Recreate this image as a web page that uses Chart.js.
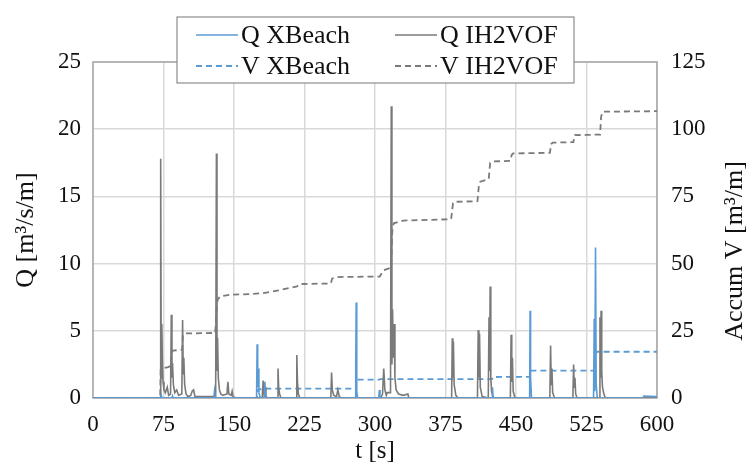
<!DOCTYPE html>
<html>
<head>
<meta charset="utf-8">
<script src="https://cdn.jsdelivr.net/npm/chart.js@4/dist/chart.umd.min.js"></script>
<style>
  body { margin: 0; background: #fff; }
  #wrap { width: 756px; height: 464px; }
</style>
</head>
<body>
<div id="wrap"><canvas id="flow"></canvas></div>
<script>
// series as [t (s), value] pairs
const qXBeach = [
  [0, 0], [72, 0], [72.6, 0.2], [73.5, 0], [84, 0], [84.6, 0.15], [85.5, 0], [128.5, 0], [129.2, 0.5], [130, 0],
  [174, 0], [174.6, 4.0], [175.2, 0.8], [175.8, 2.2], [176.5, 0.4], [178, 0], [182, 0], [182.6, 1.2], [183.3, 0.2], [185, 0],
  [279, 0], [279.5, 2.3], [280, 7.1], [280.6, 0.5], [281.5, 0], [304, 0], [304.6, 0.6], [305.3, 0],
  [424.5, 0], [425, 0.8], [425.6, 0], [464.5, 0], [465, 6.5], [465.5, 1.5], [466.5, 0],
  [532.5, 0], [533.2, 5.9], [533.8, 0.5], [534.6, 11.2], [535.3, 1.0], [536.5, 0], [585, 0], [586, 0.15], [600, 0.1]
];

const qIH2VOF = [
  [0, 0], [71.5, 0], [72, 17.8], [72.6, 1.5], [73.2, 5.5], [73.8, 2.8], [74.5, 1.2], [75.5, 0.6], [77, 0.4], [79, 0.8], [80.5, 0.2],
  [82.5, 0.3], [83.3, 6.2], [84, 1.5], [84.6, 2.6], [85.5, 1.0], [87, 0.4], [89, 0.6], [91, 0.2],
  [94.5, 0.3], [95.3, 5.8], [96, 1.8], [96.6, 3.0], [97.5, 1.0], [99, 0.3], [101, 0.1], [104, 0.2], [105.5, 0.5], [107, 0.6], [108.5, 0.1],
  [130.5, 0.1], [131.3, 18.2], [131.9, 2.0], [132.5, 4.5], [133.3, 1.5], [134.5, 0.6], [136, 0.3], [138, 0.2],
  [142.5, 0.3], [143.5, 1.2], [144.5, 0.3], [147, 0.2], [148, 0.5], [149, 0.1], [152, 0],
  [180, 0], [181, 1.3], [182, 0.3], [183, 0.8], [184, 0.1], [186, 0],
  [196, 0], [196.8, 2.2], [197.5, 0.8], [198.5, 0.3], [200, 0],
  [216, 0], [216.8, 3.2], [217.5, 1.2], [218.5, 0.3], [220, 0],
  [253, 0], [253.8, 1.9], [254.6, 0.6], [256, 0.2], [259, 0.1], [260.5, 0.6], [262, 0.1], [264, 0],
  [306, 0], [308, 0.3], [309.3, 2.2], [310.5, 0.6], [312, 0.2], [313, 0.4], [316.5, 0.4],
  [317.3, 21.7], [318, 2.5], [318.7, 6.6], [319.5, 3.0], [320.3, 5.5], [321.2, 1.5], [322.5, 0.6], [325, 0.3], [330, 0.2], [335, 0.3], [336, 0],
  [381.5, 0], [382.2, 4.45], [382.8, 1.5], [383.4, 4.2], [384.2, 1.0], [386, 0.2], [388, 0],
  [409, 0], [409.8, 5.05], [410.5, 1.5], [411.2, 4.8], [412, 0.8], [414, 0.1],
  [420.5, 0], [421.3, 6.0], [421.9, 2.0], [422.5, 8.3], [423.2, 1.5], [424, 0.5], [426, 0],
  [444, 0], [444.8, 4.7], [445.5, 1.2], [446.2, 3.0], [447, 0.5], [449, 0],
  [486, 0], [486.8, 3.9], [487.5, 1.0], [488.2, 2.2], [489, 0.4], [491, 0],
  [510.5, 0], [511.3, 2.5], [512, 0.8], [512.7, 1.5], [513.5, 0.3], [515, 0],
  [538.5, 0], [539.3, 6.0], [539.9, 1.5], [540.5, 6.5], [541.2, 2.0], [542, 0.8], [543.5, 0.3], [545, 0], [600, 0]
];

const vXBeach = [
  [0, 0], [174.5, 0], [175, 2.8], [176, 3.2], [182.5, 3.3], [183.5, 3.5], [279.5, 3.5], [280.3, 6.6], [282, 6.8],
  [304.5, 6.8], [305.5, 7.0], [424.5, 7.0], [425.5, 7.8], [464.8, 7.9], [465.4, 10.2], [533, 10.2], [534.8, 17.0], [536, 17.2], [600, 17.2]
];

const vIH2VOF = [
  [0, 0], [71.5, 0], [72, 10.5], [74, 11], [80, 11.5], [83, 12], [83.5, 17], [85, 17.6], [95, 18], [95.5, 23], [97, 24],
  [130, 24.2], [131.5, 33], [132.5, 36.5], [135, 37.8], [145, 38.4], [170, 38.7], [180, 39], [197, 40], [200, 40.3],
  [217, 41.5], [220, 42.4], [253, 42.6], [254.5, 44.5], [260, 45], [305, 45.2], [309, 47.5], [317, 48.5], [318.5, 63],
  [320, 65], [330, 66], [381, 66.5], [383, 72.5], [385, 73], [409, 73.2], [410.5, 79], [412, 80.5], [421, 81.5],
  [422.5, 87.5], [425, 88], [444, 88.2], [445.5, 90.5], [447, 91], [486, 91.2], [487.5, 94.5], [489, 95], [511, 95.2],
  [512.5, 97.8], [539.5, 98], [540.5, 104.5], [542, 106.5], [600, 106.7]
];

const seriesNames = ['Q XBeach', 'Q IH2VOF', 'V XBeach', 'V IH2VOF'];
const tTicks = [0, 600, 75];   // min, max, step
const qTicks = [0, 25, 5];
const vTicks = [0, 125, 25];
const rightTitle = 'Accum V [m³/m]';

const BLUE = '#5b9bd5';
const GREY = '#7a7a7a';
const SERIF = '"Liberation Serif", "Times New Roman", serif';

const toXY = arr => arr.map(p => ({ x: p[0], y: p[1] }));

// frame round the plot area
const frame = {
  id: 'frame',
  beforeDatasetsDraw(chart) {
    const { ctx, chartArea: a } = chart;
    ctx.save();
    ctx.strokeStyle = '#a6a6a6';
    ctx.lineWidth = 1.5;
    ctx.strokeRect(a.left, a.top, a.right - a.left, a.bottom - a.top);
    ctx.restore();
  }
};

// chart.js turns right titles the other way, so this one is drawn by hand
const rightAxisTitle = {
  id: 'rightAxisTitle',
  afterDraw(chart) {
    const ctx = chart.ctx;
    ctx.save();
    ctx.translate(735, 251);
    ctx.rotate(-Math.PI / 2);
    ctx.font = '26px ' + SERIF;
    ctx.fillStyle = '#111';
    ctx.textAlign = 'center';
    ctx.textBaseline = 'middle';
    ctx.fillText(rightTitle, 0, 0);
    ctx.restore();
  }
};

// legend box, 2 columns, drawn over the top of the plot like in excel
const boxLegend = {
  id: 'boxLegend',
  afterDraw(chart) {
    const ctx = chart.ctx;
    const x0 = 177, y0 = 17, w = 397, h = 66;
    ctx.save();
    ctx.fillStyle = '#fff';
    ctx.fillRect(x0, y0, w, h);
    ctx.strokeStyle = '#8c8c8c';
    ctx.lineWidth = 1.2;
    ctx.strokeRect(x0, y0, w, h);
    ctx.font = '26px ' + SERIF;
    ctx.textBaseline = 'middle';
    ctx.fillStyle = '#111';
    chart.data.datasets.forEach((ds, i) => {
      const col = i % 2, row = Math.floor(i / 2);
      const lx = col ? 395 : 196;
      const ly = row ? 66 : 35;
      ctx.strokeStyle = ds.borderColor;
      ctx.lineWidth = ds.borderWidth;
      ctx.setLineDash(ds.borderDash || []);
      ctx.beginPath();
      ctx.moveTo(lx, ly);
      ctx.lineTo(lx + 42, ly);
      ctx.stroke();
      ctx.setLineDash([]);
      ctx.fillText(ds.label, lx + 45, ly + 1);
    });
    ctx.restore();
  }
};

const data = {
  datasets: [
    { label: seriesNames[0], data: toXY(qXBeach), yAxisID: 'y', borderColor: BLUE, borderWidth: 1.6 },
    { label: seriesNames[1], data: toXY(qIH2VOF), yAxisID: 'y', borderColor: GREY, borderWidth: 1.6 },
    { label: seriesNames[2], data: toXY(vXBeach), yAxisID: 'y2', borderColor: BLUE, borderWidth: 1.8, borderDash: [6, 4] },
    { label: seriesNames[3], data: toXY(vIH2VOF), yAxisID: 'y2', borderColor: GREY, borderWidth: 1.8, borderDash: [6, 4] }
  ]
};

const config = {
  type: 'line',
  data: data,
  options: {
    responsive: true,
    maintainAspectRatio: false,
    animation: false,
    layout: { padding: { top: 62, left: 0, right: 0, bottom: 0 } },
    elements: { point: { radius: 0 }, line: { tension: 0 } },
    plugins: { legend: { display: false }, tooltip: { enabled: false } },
    scales: {
      x: {
        type: 'linear', min: tTicks[0], max: tTicks[1],
        ticks: { stepSize: tTicks[2], color: '#111', font: { family: SERIF, size: 23 }, padding: 13, maxRotation: 0 },
        grid: { color: '#d9d9d9', lineWidth: 1.5, drawTicks: false },
        border: { display: false },
        title: { display: true, text: 't [s]', color: '#111', font: { family: SERIF, size: 25, lineHeight: 1 }, padding: { top: 0, bottom: 0 } },
        afterFit(s) { s.height = 66; }
      },
      y: {
        position: 'left', min: qTicks[0], max: qTicks[1],
        ticks: { stepSize: qTicks[2], color: '#111', font: { family: SERIF, size: 23 }, padding: 12 },
        grid: { color: '#d9d9d9', lineWidth: 1.5, drawTicks: false },
        border: { display: false },
        title: { display: true, text: 'Q [m³/s/m]', color: '#111', font: { family: SERIF, size: 26 }, padding: { top: 11, bottom: 0 } },
        afterFit(s) { s.width = 93; }
      },
      y2: {
        position: 'right', min: vTicks[0], max: vTicks[1],
        ticks: { stepSize: vTicks[2], color: '#111', font: { family: SERIF, size: 23 }, padding: 14 },
        grid: { drawOnChartArea: false, drawTicks: false },
        border: { display: false },
        afterFit(s) { s.width = 99; }
      }
    }
  },
  plugins: [frame, rightAxisTitle, boxLegend]
};

const flowChart = new Chart(document.getElementById('flow'), config);
</script>
</body>
</html>
